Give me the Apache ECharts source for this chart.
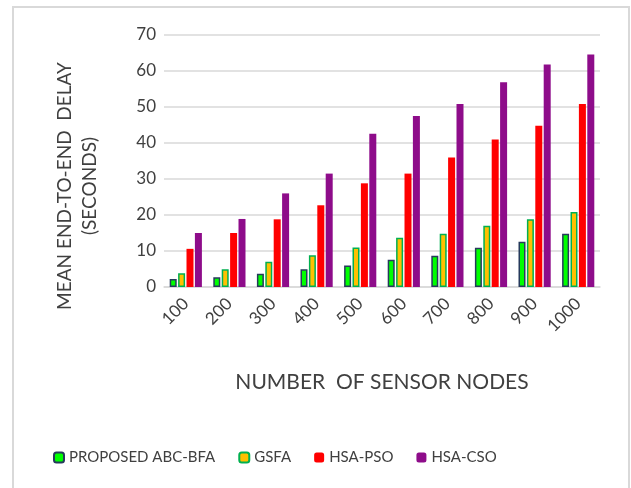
<!DOCTYPE html>
<html>
<head>
<meta charset="utf-8">
<script src="https://cdn.jsdelivr.net/npm/echarts@6/dist/echarts.min.js"></script>
<style>
  html, body { margin: 0; padding: 0; background: #fff; }
  #chart { width: 631px; height: 488px; }
</style>
</head>
<body>
<div id="chart"></div>
<script>
  // values
  const nodes = ['100', '200', '300', '400', '500', '600', '700', '800', '900', '1000'];
  const abcBfa = [2.2, 2.7, 3.7, 4.9, 6.0, 7.6, 8.7, 10.9, 12.6, 14.8];
  const gsfa = [3.8, 4.9, 7.0, 8.8, 11.0, 13.7, 14.8, 17.0, 18.8, 20.8];
  const hsaPso = [10.6, 15.0, 18.8, 22.7, 28.8, 31.5, 36.0, 41.0, 44.8, 50.8];
  const hsaCso = [15.0, 18.9, 26.0, 31.5, 42.6, 47.5, 50.8, 56.9, 61.8, 64.6];

  const font = 'Lato';
  const txt = '#404040';

  let chart = echarts.init(document.getElementById('chart'));
  chart.setOption({
    animation: false,
    textStyle: { fontFamily: font },
    grid: { left: 164, right: 31, top: 35, bottom: 201 },
    graphic: [{
      type: 'rect',
      shape: { x: 13, y: 7, width: 616, height: 500 },
      style: { fill: 'none', stroke: '#d9d9d9', lineWidth: 2 }
    }],
    legend: {
      left: 53,
      top: 450,
      padding: 0,
      itemWidth: 10,
      itemHeight: 10,
      itemGap: 23,
      textStyle: { fontSize: 15, color: txt, fontFamily: font },
      data: ['PROPOSED ABC-BFA', 'GSFA', 'HSA-PSO', 'HSA-CSO']
    },
    xAxis: {
      type: 'category',
      data: nodes,
      name: 'NUMBER  OF SENSOR NODES',
      nameLocation: 'middle',
      nameGap: 85,
      nameTextStyle: { fontSize: 21, color: txt, fontFamily: font },
      axisLine: { lineStyle: { color: '#d9d9d9', width: 1.5 } },
      axisTick: { show: false },
      axisLabel: { rotate: 45, fontSize: 17, color: txt, margin: 14, interval: 0 }
    },
    yAxis: {
      type: 'value',
      min: 0,
      max: 70,
      interval: 10,
      name: 'MEAN END-TO-END  DELAY\n(SECONDS)',
      nameLocation: 'middle',
      nameGap: 62,
      nameTextStyle: { fontSize: 19, color: txt, fontFamily: font, lineHeight: 25, padding: [0, 50, 0, 0] },
      axisLine: { show: false },
      axisTick: { show: false },
      axisLabel: { fontSize: 17, color: txt, margin: 8 },
      splitLine: { lineStyle: { color: '#d9d9d9', width: 1.5 } }
    },
    series: [
      {
        name: 'PROPOSED ABC-BFA', type: 'bar', data: abcBfa, barWidth: 7, barGap: '20%',
        itemStyle: { color: '#00ff00', borderColor: '#263a5c', borderWidth: 1.5 }
      },
      {
        name: 'GSFA', type: 'bar', data: gsfa, barWidth: 7, barGap: '20%',
        itemStyle: { color: '#ffc000', borderColor: '#00b050', borderWidth: 1.5 }
      },
      {
        name: 'HSA-PSO', type: 'bar', data: hsaPso, barWidth: 7, barGap: '20%',
        itemStyle: { color: '#ff0000' }
      },
      {
        name: 'HSA-CSO', type: 'bar', data: hsaCso, barWidth: 7, barGap: '20%',
        itemStyle: { color: '#8e0c8a' }
      }
    ]
  });
</script>
</body>
</html>
